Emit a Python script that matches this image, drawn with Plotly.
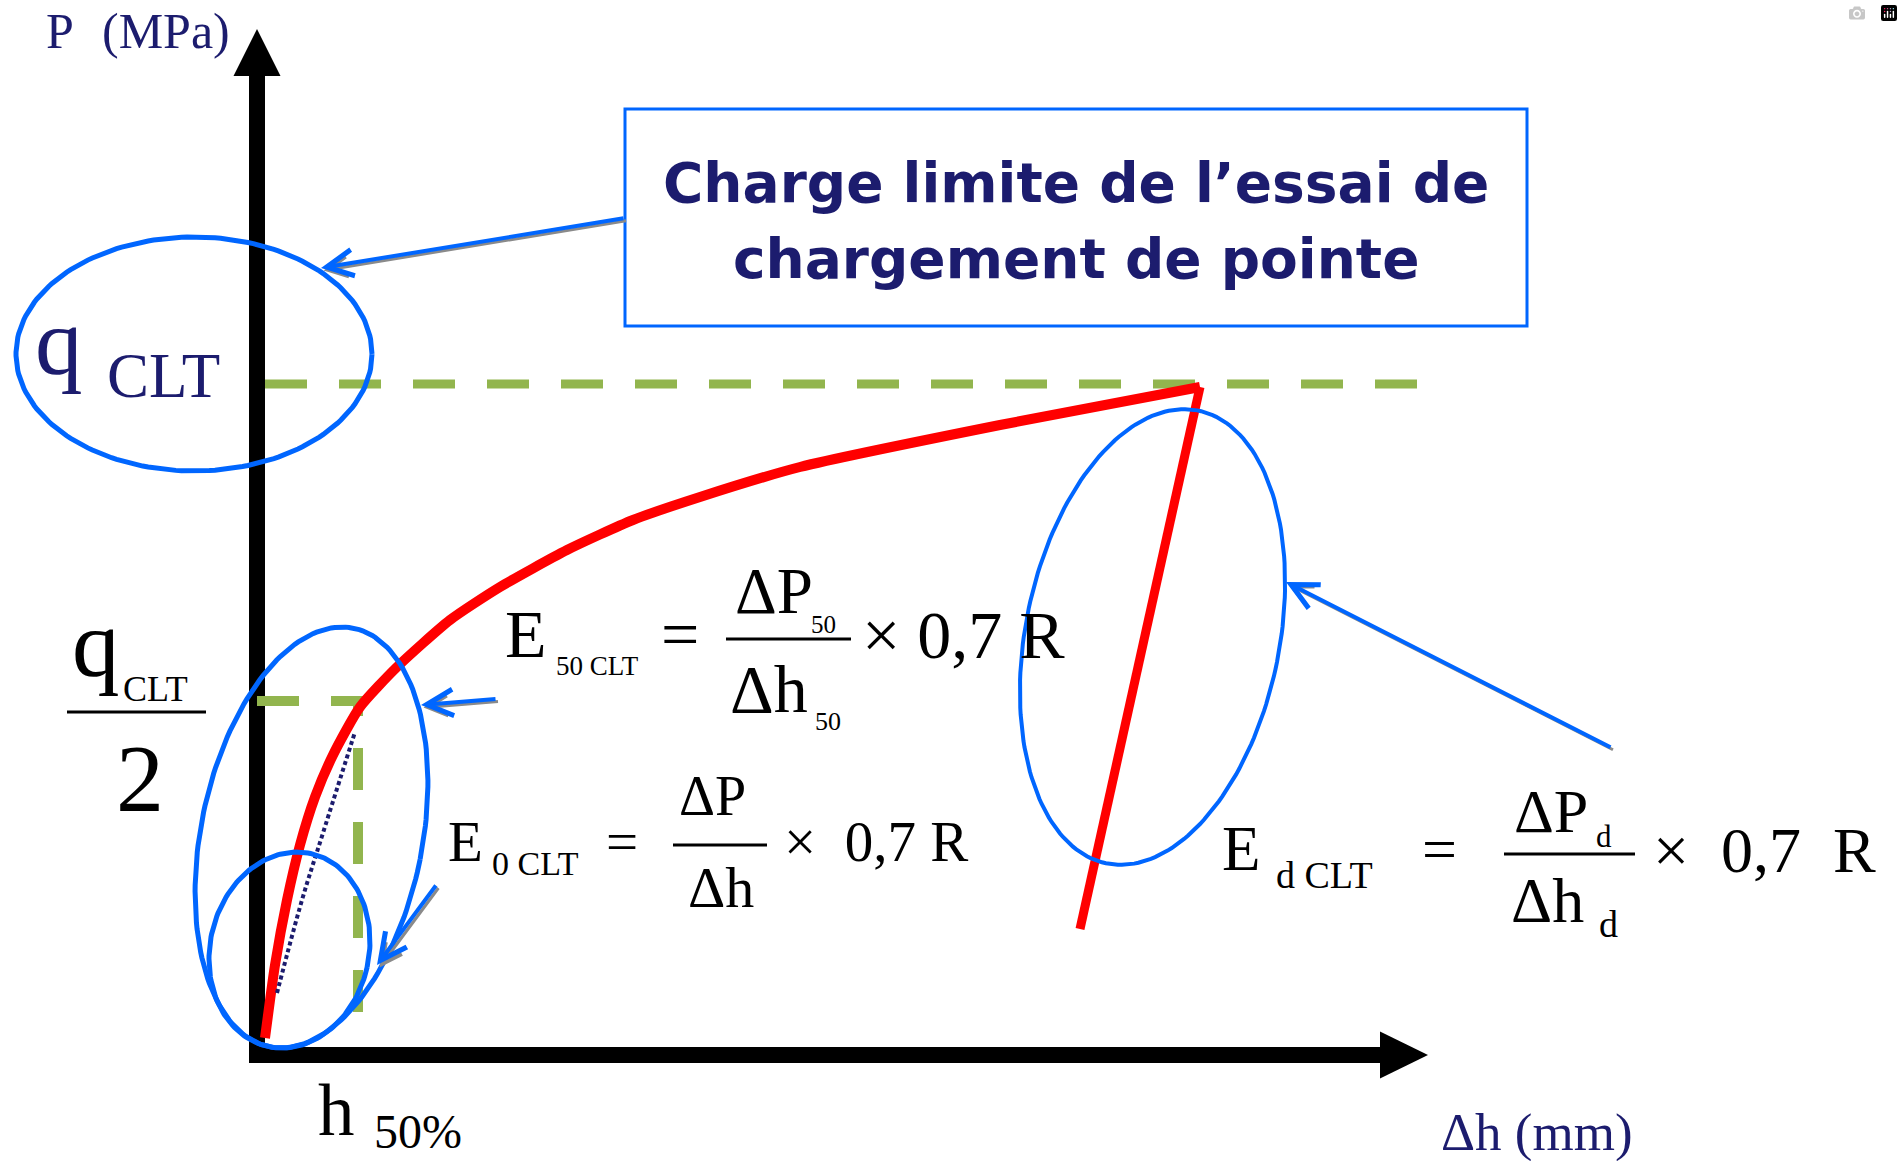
import numpy as np
import plotly.graph_objects as go

# load-settlement curve of the point loading test (dh in mm, P in MPa)
curve_dh = [0.8, 1.8, 3.0, 4.3, 5.8, 7.6, 10.3, 14.0, 19.3, 24.3, 31.0, 37.6, 44.3, 54.3, 74.3, 94.3]
curve_p = [1.7, 9.0, 15.5, 21.0, 25.8, 30.0, 34.8, 38.8, 43.5, 46.8, 50.5, 53.5, 55.8, 58.8, 63.0, 66.8]

# unloading branch after the limit load
unload_dh = [94.3, 82.3]
unload_p = [66.8, 12.6]

# initial tangent (E0) drawn as a dotted line
tangent_dh = [2.0, 4.5, 6.6, 9.8]
tangent_p = [6.2, 15.5, 22.2, 32.3]

q_clt = 67.1          # limit load level
q_half = 35.4         # q_CLT / 2
h50 = 10.1            # settlement at q_CLT / 2
limit_line_end = 117.3

NAVY = "#1C1C6E"
BLUE = "#0066FF"
RED = "#FF0000"
GREEN = "#92B54E"
SERIF = "Liberation Serif, Times New Roman, serif"

W, H = 1903, 1161
X0, Y0 = 257, 1055      # pixel position of the origin
UNIT = 10               # pixels per data unit


def ellipse(cx, cy, a, b, tilt):
    """a = semi axis close to vertical, tilt in degrees (top leaning right)."""
    t = np.linspace(0, 2 * np.pi, 200)
    th = np.radians(tilt)
    x = cx + b * np.cos(t) * np.cos(th) + a * np.sin(t) * np.sin(th)
    y = cy - b * np.cos(t) * np.sin(th) + a * np.sin(t) * np.cos(th)
    return x, y


fig = go.Figure()

# green dashed guides
fig.add_trace(go.Scatter(x=[0.8, limit_line_end], y=[q_clt, q_clt], mode="lines",
                         line=dict(color=GREEN, width=9, dash="42px,32px"), hoverinfo="skip"))
fig.add_trace(go.Scatter(x=[0, h50, h50], y=[q_half, q_half, 1.3], mode="lines",
                         line=dict(color=GREEN, width=10, dash="42px,32px"), hoverinfo="skip"))

# red curve
fig.add_trace(go.Scatter(x=curve_dh, y=curve_p, mode="lines",
                         line=dict(color=RED, width=10, shape="spline", smoothing=0.6),
                         hoverinfo="skip"))
fig.add_trace(go.Scatter(x=unload_dh, y=unload_p, mode="lines",
                         line=dict(color=RED, width=9), hoverinfo="skip"))

# dotted tangent
fig.add_trace(go.Scatter(x=tangent_dh, y=tangent_p, mode="lines",
                         line=dict(color=NAVY, width=4, dash="4px,3px", shape="spline"),
                         hoverinfo="skip"))

# blue ellipses
for cx, cy, a, b, tilt, w in [(-6.3, 70.1, 11.7, 17.8, 0, 5),
                              (5.45, 21.75, 21.35, 11.08, 11.3, 5),
                              (3.25, 10.5, 9.88, 7.95, 12.6, 5),
                              (89.55, 41.8, 23.1, 12.7, 11.4, 4)]:
    ex, ey = ellipse(cx, cy, a, b, tilt)
    fig.add_trace(go.Scatter(x=ex, y=ey, mode="lines", line=dict(color=BLUE, width=w),
                             hoverinfo="skip"))

# axes drawn as thick black arrows
shapes = [
    dict(type="rect", x0=-0.8, x1=0.8, y0=-0.8, y1=97.9, fillcolor="black", line_width=0, layer="below"),
    dict(type="path", path="M -2.35 97.9 L 2.35 97.9 L 0 102.6 Z", fillcolor="black", line_width=0, layer="below"),
    dict(type="rect", x0=-0.8, x1=112.3, y0=-0.8, y1=0.8, fillcolor="black", line_width=0, layer="below"),
    dict(type="path", path="M 112.3 2.35 L 112.3 -2.35 L 117.1 0 Z", fillcolor="black", line_width=0, layer="below"),
    # title box
    dict(type="rect", x0=(625 - X0) / UNIT, x1=(1527 - X0) / UNIT, y0=(Y0 - 326) / UNIT, y1=(Y0 - 109) / UNIT,
         line=dict(color=BLUE, width=3), fillcolor="white"),
]

# fraction bars (pixel coordinates: x0, x1, y)
for xa, xb, yy in [(67, 206, 712), (726, 851, 639), (673, 767, 845), (1504, 1635, 854)]:
    shapes.append(dict(type="line", xref="paper", yref="paper", x0=xa / W, x1=xb / W,
                       y0=1 - yy / H, y1=1 - yy / H, line=dict(color="black", width=3)))

annotations = []

# arrows (tail -> head, data units), gray shadow then blue line
arrows = [((36.8, 83.7), (6.4, 78.7)),
          ((24.0, 35.6), (16.4, 35.0)),
          ((18.0, 17.1), (12.0, 9.0)),
          ((135.5, 30.7), (102.9, 47.3))]
for (tx, ty), (hx, hy) in arrows:
    annotations.append(dict(x=hx + 0.25, y=hy - 0.25, ax=tx + 0.25, ay=ty - 0.25, xref="x", yref="y",
                            axref="x", ayref="y", text="", showarrow=True, arrowhead=5,
                            arrowsize=1.3, arrowwidth=3, arrowcolor="#8a8a8a"))
    annotations.append(dict(x=hx, y=hy, ax=tx, ay=ty, xref="x", yref="y", axref="x", ayref="y",
                            text="", showarrow=True, arrowhead=5, arrowsize=1.3, arrowwidth=4,
                            arrowcolor=BLUE))

# text pieces: text, left px, centre px, size, colour
labels = [
    ("P", 45, 31, 50, NAVY),
    ("(MPa)", 101, 31, 50, NAVY),
    ("q", 34, 342, 95, NAVY),
    ("CLT", 106, 376, 63, NAVY),
    ("q", 71, 644, 95, "black"),
    ("CLT", 122, 689, 36, "black"),
    ("2", 115, 778, 96, "black"),
    ("h", 317, 1110, 73, "black"),
    ("50%", 373, 1131, 48, "black"),
    ("\u0394h (mm)", 1440, 1132, 53, NAVY),
    # E50
    ("E", 504, 634, 68, "black"),
    ("50 CLT", 555, 666, 27, "black"),
    ("=", 660, 634, 68, "black"),
    ("\u0394P", 734, 591, 65, "black"),
    ("50", 810, 624, 25, "black"),
    ("\u0394h", 729, 689, 68, "black"),
    ("50", 814, 721, 26, "black"),
    ("\u00d7 0,7 R", 861, 635, 68, "black"),
    # E0
    ("E", 447, 841, 57, "black"),
    ("0 CLT", 491, 863, 34, "black"),
    ("=", 605, 841, 57, "black"),
    ("\u0394P", 678, 796, 56, "black"),
    ("\u0394h", 687, 887, 58, "black"),
    ("\u00d7\u00a0 0,7 R", 783, 841, 57, "black"),
    # Ed
    ("E", 1221, 849, 63, "black"),
    ("d CLT", 1275, 875, 38, "black"),
    ("=", 1421, 849, 62, "black"),
    ("\u0394P", 1513, 811, 62, "black"),
    ("d", 1595, 836, 31, "black"),
    ("\u0394h", 1510, 900, 64, "black"),
    ("d", 1598, 924, 38, "black"),
    ("\u00d7\u00a0 0,7\u00a0 R", 1652, 850, 64, "black"),
]
for text, lx, cy, size, color in labels:
    annotations.append(dict(x=lx / W, y=1 - cy / H, xref="paper", yref="paper", text=text,
                            showarrow=False, xanchor="left", yanchor="middle", borderpad=0,
                            font=dict(family=SERIF, size=size, color=color)))

# title box text
for text, cy in [("Charge limite de l\u2019essai de", 183), ("chargement de pointe", 259)]:
    annotations.append(dict(x=1076 / W, y=1 - cy / H, xref="paper", yref="paper", text=text,
                            showarrow=False, xanchor="center", yanchor="middle",
                            font=dict(family="Comic Sans MS, DejaVu Sans, sans-serif", size=55,
                                      color=NAVY, weight="bold")))

fig.update_layout(
    width=W, height=H,
    margin=dict(l=0, r=0, t=0, b=0),
    paper_bgcolor="white", plot_bgcolor="white",
    showlegend=False,
    xaxis=dict(range=[-X0 / UNIT, (W - X0) / UNIT], visible=False, fixedrange=True),
    yaxis=dict(range=[(Y0 - H) / UNIT, Y0 / UNIT], visible=False, fixedrange=True),
    shapes=shapes,
    annotations=annotations,
)

fig.write_html("out.html", post_script="document.body.style.margin='0';document.body.style.overflow='hidden';")
